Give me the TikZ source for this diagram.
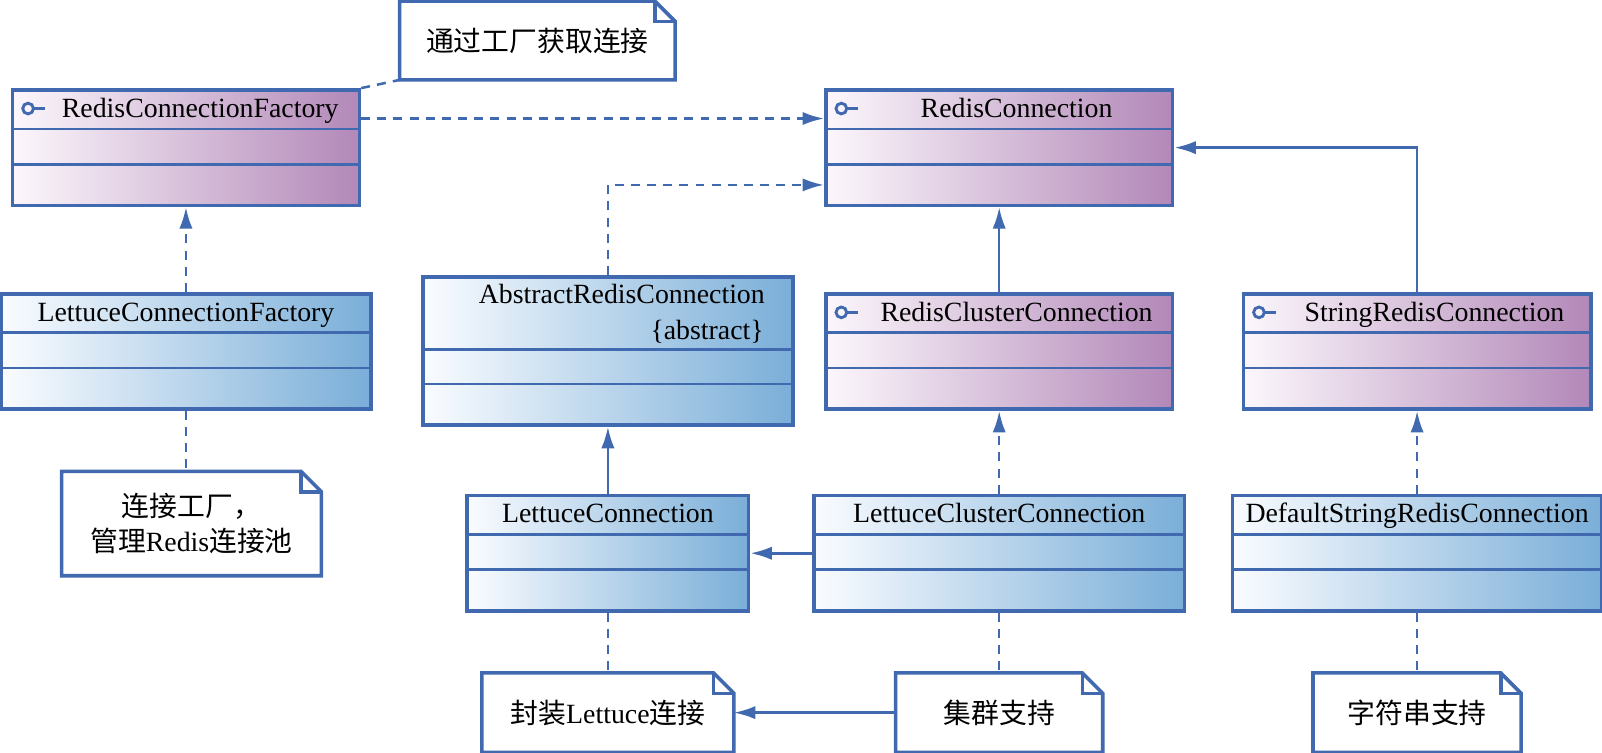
\documentclass[tikz,border=0pt]{standalone}
\usepackage{fontspec}
\setmainfont{Liberation Serif}
\newfontfamily\cjk{Noto Sans CJK SC}
\usetikzlibrary{arrows.meta}
\definecolor{umlblue}{RGB}{65,105,175}
\definecolor{purpleL}{RGB}{252,247,252}
\definecolor{purpleR}{RGB}{178,136,184}
\definecolor{blueL}{RGB}{250,252,255}
\definecolor{blueR}{RGB}{122,174,216}
\begin{document}
\begin{tikzpicture}[x=0.2mm, y=-0.2mm,
  font=\fontsize{15.5}{19.6}\selectfont,
  box/.style={draw=umlblue, line width=2pt, inner sep=0pt, minimum height=22.6mm},
  iface/.style={box, left color=purpleL, right color=purpleR},
  cls/.style={box, left color=blueL, right color=blueR},
  part/.style={draw=umlblue, line width=1.5pt},
  note/.style={inner sep=0pt, align=center},
  notebox/.style={draw=umlblue, line width=2pt, fill=white, line join=miter},
  dep/.style={draw=umlblue, line width=1.4pt, dash pattern=on 5pt off 4pt, -{Latex[length=4.2mm, width=2.6mm]}},
  inh/.style={draw=umlblue, line width=1.4pt, -{Latex[length=4.2mm, width=2.6mm]}},
  link/.style={draw=umlblue, line width=1.4pt, dash pattern=on 5pt off 4pt}]
\useasboundingbox (0,0) rectangle (1568,737);

% class boxes
\node[iface, minimum width=67.9mm] (RCF) at (182,144.5) {};
\node[iface, minimum width=67.9mm] (RC) at (978,144.5) {};
\node[cls, minimum width=72.4mm] (LCF) at (182,344) {};
\node[cls, minimum width=72.4mm, minimum height=29mm] (ARC) at (595,343.5) {};
\node[iface, minimum width=67.9mm] (RClC) at (978,344) {};
\node[iface, minimum width=68mm] (SRC) at (1387,344) {};
\node[cls, minimum width=55.1mm] (LC) at (595,541.5) {};
\node[cls, minimum width=72.6mm] (LCC) at (978,541.5) {};
\node[cls, minimum width=72.2mm] (DSRC) at (1387,541.5) {};

\foreach \b in {RCF,RC,LCF,RClC,SRC,LC,LCC,DSRC} {
  \draw[part] ([yshift=-8mm]\b.north west) -- ([yshift=-8mm]\b.north east);
  \draw[part] ([yshift=-14.9mm]\b.north west) -- ([yshift=-14.9mm]\b.north east);
}
\draw[part] ([yshift=-14.6mm]ARC.north west) -- ([yshift=-14.6mm]ARC.north east);
\draw[part] ([yshift=-21.3mm]ARC.north west) -- ([yshift=-21.3mm]ARC.north east);

% interface marks
\foreach \b in {RCF,RC,RClC,SRC} {
  \draw[umlblue, line width=1.6pt] ([xshift=3.4mm, yshift=-4mm]\b.north west) circle (1.05mm);
  \draw[umlblue, line width=1.6pt] ([xshift=4.45mm, yshift=-4mm]\b.north west) -- ++(11,0);
}

% names
\node[anchor=base] at ([xshift=2.8mm, yshift=-5.76mm]RCF.north) {RedisConnectionFactory};
\node[anchor=base] at ([xshift=3.4mm, yshift=-5.76mm]RC.north) {RedisConnection};
\node[anchor=base] at ([yshift=-5.7mm]LCF.north) {LettuceConnectionFactory};
\node[anchor=base east] at ([xshift=-4.6mm, yshift=-5.5mm]ARC.north east) {AbstractRedisConnection};
\node[anchor=base east] at ([xshift=-4.8mm, yshift=-12.7mm]ARC.north east) {\{abstract\}};
\node[anchor=base] at ([xshift=3.4mm, yshift=-5.76mm]RClC.north) {RedisClusterConnection};
\node[anchor=base] at ([xshift=3.4mm, yshift=-5.76mm]SRC.north) {StringRedisConnection};
\node[anchor=base] at ([yshift=-5.7mm]LC.north) {LettuceConnection};
\node[anchor=base] at ([yshift=-5.7mm]LCC.north) {LettuceClusterConnection};
\node[anchor=base] at ([yshift=-5.7mm]DSRC.north) {DefaultStringRedisConnection};

% notes
\node[note, minimum width=53.8mm, minimum height=15.3mm] (N1) at (526,39.6) {};
\node[note, minimum width=50.7mm, minimum height=20.3mm] (N2) at (187.4,512.4) {};
\node[note, minimum width=49.2mm, minimum height=15.4mm] (N3) at (595,697.5) {};
\node[note, minimum width=40.4mm, minimum height=15.4mm] (N4) at (978,697.5) {};
\node[note, minimum width=40.6mm, minimum height=15.4mm] (N5) at (1387,697.5) {};
\foreach \n in {N1,N2,N3,N4,N5} {
  \draw[notebox] (\n.north west) -- ([xshift=-4mm]\n.north east) -- ([yshift=-4mm]\n.north east)
    -- (\n.south east) -- (\n.south west) -- cycle;
  \draw[notebox, fill=none] ([xshift=-4mm]\n.north east) |- ([yshift=-4mm]\n.north east);
}
\node at (N1) {\cjk 通过工厂获取连接};
\node[align=center] at (N2) {{\cjk 连接工厂，}\\{\cjk 管理}Redis{\cjk 连接池}};
\node at (N3) {{\cjk 封装}Lettuce{\cjk 连接}};
\node at (N4) {\cjk 集群支持};
\node at (N5) {\cjk 字符串支持};

% connectors
\draw[link] (RCF.north east) -- (N1.south west);
\draw[dep] ([yshift=5.7mm]RCF.east) -- ([yshift=5.7mm]RC.west);
\draw[dep] (LCF.north) -- (RCF.south);
\draw[dep] (ARC.north) |- ([yshift=-7.3mm]RC.west);
\draw[inh] (RClC.north) -- (RC.south);
\draw[inh] (SRC.north) |- (RC.east);
\draw[inh] (LC.north) -- (ARC.south);
\draw[inh] (LCC.west) -- (LC.east);
\draw[dep] (LCC.north) -- (RClC.south);
\draw[dep] (DSRC.north) -- (SRC.south);
\draw[link] (LCF.south) -- (LCF.south |- N2.north);
\draw[link] (LC.south) -- (N3.north);
\draw[link] (LCC.south) -- (N4.north);
\draw[link] (DSRC.south) -- (N5.north);
\draw[inh] (N4.west) -- (N3.east);
\end{tikzpicture}
\end{document}
